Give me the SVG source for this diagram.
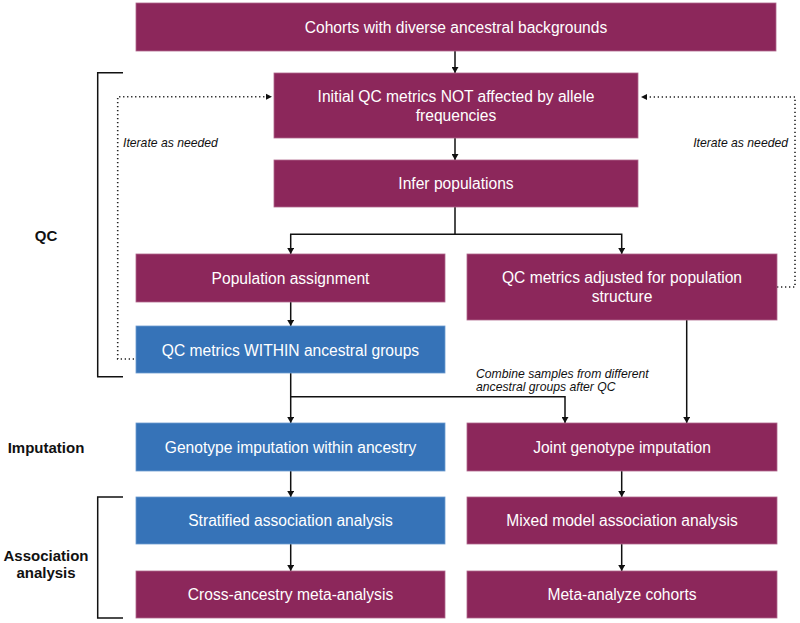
<svg xmlns="http://www.w3.org/2000/svg" width="800" height="623" viewBox="0 0 800 623">
<defs>
<style>
.p{fill:#8C275B;stroke:#B0668C;stroke-width:0.8}
.b{fill:#3673B8;stroke:#6D9BD0;stroke-width:0.8}
.t{font-family:"Liberation Sans",Arial,sans-serif;font-size:15.6px;fill:#fff;text-anchor:middle}
.lab{font-family:"Liberation Sans",Arial,sans-serif;font-size:15px;font-weight:bold;fill:#111;text-anchor:middle}
.it{font-family:"Liberation Sans",Arial,sans-serif;font-size:12.2px;font-style:italic;fill:#111}
.c{fill:none;stroke:#111;stroke-width:1.5}
.d{fill:none;stroke:#222;stroke-width:1.6;stroke-dasharray:1.3 2.7}
</style>
<marker id="ah" viewBox="0 0 6 7" refX="6" refY="3.5" markerWidth="6" markerHeight="7" markerUnits="userSpaceOnUse" orient="auto">
<path d="M0,0 L6,3.5 L0,7 z" fill="#111"/>
</marker>
</defs>

<g id="connectors">
<path class="c" d="M455 51 V73" marker-end="url(#ah)"/>
<path class="c" d="M455 138 V160" marker-end="url(#ah)"/>
<path class="c" d="M455 207 V234.3 H290.7 V254" marker-end="url(#ah)"/>
<path class="c" d="M455 234.3 H621.7 V254" marker-end="url(#ah)"/>
<path class="c" d="M290.7 302 V326" marker-end="url(#ah)"/>
<path class="c" d="M290.7 373 V423" marker-end="url(#ah)"/>
<path class="c" d="M290.7 396.7 H565 V423" marker-end="url(#ah)"/>
<path class="c" d="M686.7 320 V423" marker-end="url(#ah)"/>
<path class="c" d="M290.7 471 V497" marker-end="url(#ah)"/>
<path class="c" d="M290.7 544 V571" marker-end="url(#ah)"/>
<path class="c" d="M621.7 471 V497" marker-end="url(#ah)"/>
<path class="c" d="M621.7 544 V571" marker-end="url(#ah)"/>
<path class="d" d="M134 359 H117.7 V96.7 H267"/>
<path d="M266 93.7 L272 96.7 L266 99.7 z" fill="#111"/>
<path class="d" d="M777 287 H795 V97 H646"/>
<path d="M647 94 L641 97 L647 100 z" fill="#111"/>
</g>

<g id="brackets">
<path class="c" d="M123 72.7 H97.7 V376.7 H123"/>
<path class="c" d="M123 497 H97.7 V618 H123"/>
</g>

<g id="labels">
<text class="lab" x="46" y="241">QC</text>
<text class="lab" x="46" y="453">Imputation</text>
<text class="lab" x="46" y="561">Association</text>
<text class="lab" x="46" y="578">analysis</text>
<text class="it" x="123" y="147">Iterate as needed</text>
<text class="it" x="788" y="147" text-anchor="end">Iterate as needed</text>
<text class="it" x="476" y="378">Combine samples from different</text>
<text class="it" x="476" y="391">ancestral groups after QC</text>
</g>

<g id="n1"><rect class="p" x="136" y="3" width="640" height="48"/><text class="t" x="456" y="32.5">Cohorts with diverse ancestral backgrounds</text></g>
<g id="n2"><rect class="p" x="274" y="73" width="364" height="65"/><text class="t" x="456" y="101.5">Initial QC metrics NOT affected by allele</text><text class="t" x="456" y="120.5">frequencies</text></g>
<g id="n3"><rect class="p" x="274" y="160" width="364" height="47"/><text class="t" x="456" y="189">Infer populations</text></g>
<g id="n4"><rect class="p" x="136" y="254" width="309" height="48"/><text class="t" x="290.5" y="283.5">Population assignment</text></g>
<g id="n5"><rect class="p" x="467" y="254" width="310" height="66"/><text class="t" x="622" y="282.5">QC metrics adjusted for population</text><text class="t" x="622" y="301.5">structure</text></g>
<g id="n6"><rect class="b" x="136" y="326" width="309" height="47"/><text class="t" x="290.5" y="355.5">QC metrics WITHIN ancestral groups</text></g>
<g id="n7"><rect class="b" x="136" y="423" width="309" height="48"/><text class="t" x="290.5" y="452.5">Genotype imputation within ancestry</text></g>
<g id="n8"><rect class="p" x="467" y="423" width="310" height="48"/><text class="t" x="622" y="452.5">Joint genotype imputation</text></g>
<g id="n9"><rect class="b" x="136" y="497" width="309" height="47"/><text class="t" x="290.5" y="526">Stratified association analysis</text></g>
<g id="n10"><rect class="p" x="467" y="497" width="310" height="47"/><text class="t" x="622" y="526">Mixed model association analysis</text></g>
<g id="n11"><rect class="p" x="136" y="571" width="309" height="47"/><text class="t" x="290.5" y="600">Cross-ancestry meta-analysis</text></g>
<g id="n12"><rect class="p" x="467" y="571" width="310" height="47"/><text class="t" x="622" y="600">Meta-analyze cohorts</text></g>
</svg>
